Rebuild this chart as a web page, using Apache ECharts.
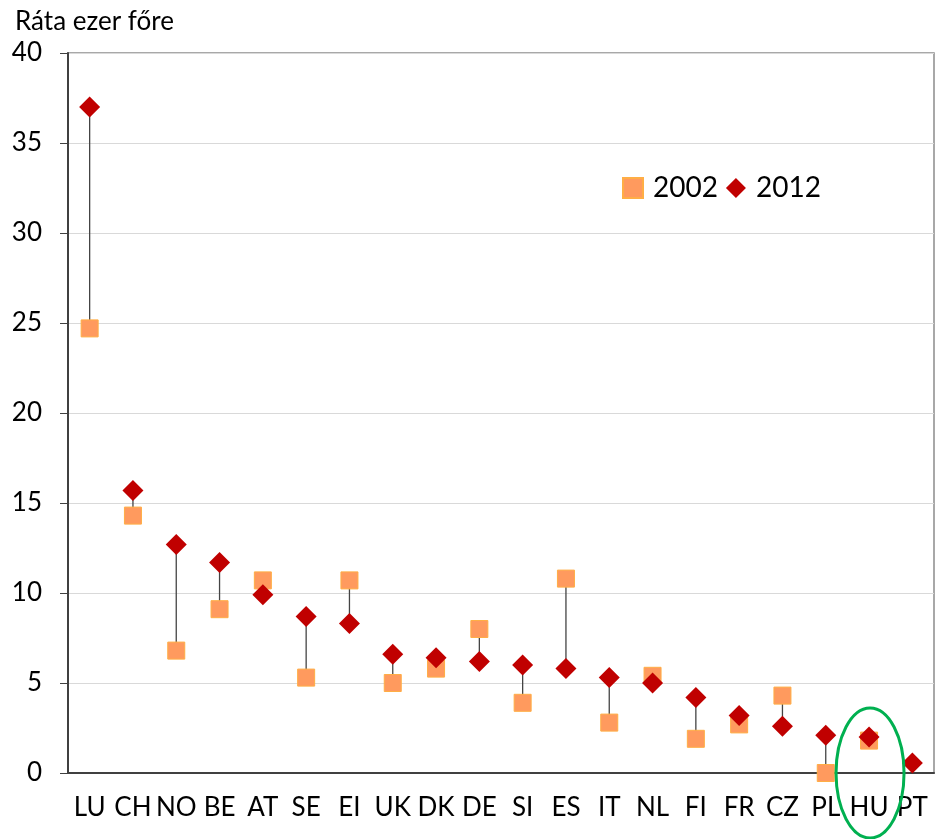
<!DOCTYPE html>
<html>
<head>
<meta charset="utf-8">
<script src="https://cdn.jsdelivr.net/npm/echarts@6/dist/echarts.min.js"></script>
<style>
  html, body { margin: 0; padding: 0; background: #fff; }
  #chart { width: 936px; height: 839px; }
</style>
</head>
<body>
<div id="chart"></div>
<script>
const countries = ['LU', 'CH', 'NO', 'BE', 'AT', 'SE', 'EI', 'UK', 'DK', 'DE', 'SI', 'ES', 'IT', 'NL', 'FI', 'FR', 'CZ', 'PL', 'HU', 'PT'];
const rate2002 = [24.7, 14.3, 6.8, 9.1, 10.7, 5.3, 10.7, 5.0, 5.8, 8.0, 3.9, 10.8, 2.8, 5.4, 1.9, 2.7, 4.3, 0.0, 1.8, null];
const rate2012 = [37.0, 15.7, 12.7, 11.7, 9.9, 8.7, 8.3, 6.6, 6.4, 6.2, 6.0, 5.8, 5.3, 5.0, 4.2, 3.2, 2.6, 2.1, 2.0, 0.55];
const yTicks = { min: 0, max: 40, interval: 5 };
const highlighted = 'HU';

const FONT = 'Lato, "Liberation Sans", sans-serif';

const chart = echarts.init(document.getElementById('chart'));

// összekötő vonalak a két év között
const connectorData = countries.map((c, i) => [i, rate2002[i], rate2012[i]])
  .filter(d => d[1] != null && d[2] != null);

chart.setOption({
  animation: false,
  title: {
    text: 'Ráta ezer főre',
    left: 10,
    top: 4,
    textStyle: { fontFamily: FONT, fontSize: 26, fontWeight: 'normal', color: '#000' }
  },
  legend: {
    left: 617,
    top: 169,
    itemWidth: 20,
    itemHeight: 20,
    itemGap: 8,
    textStyle: { fontFamily: FONT, fontSize: 28, color: '#000', padding: [0, 0, 0, 5] },
    data: [
      { name: '2002', icon: 'rect' },
      { name: '2012', icon: 'diamond' }
    ]
  },
  grid: {
    left: 68, right: 2, top: 53, bottom: 66,
    show: true, borderColor: '#8c8c8c', borderWidth: 1.5
  },
  xAxis: {
    type: 'category',
    data: countries,
    boundaryGap: true,
    axisLine: { lineStyle: { color: '#404040', width: 2 } },
    axisTick: { show: false },
    axisLabel: { fontFamily: FONT, fontSize: 26, color: '#000', margin: 22, interval: 0 }
  },
  yAxis: {
    type: 'value',
    min: yTicks.min, max: yTicks.max, interval: yTicks.interval,
    axisLine: { show: true, lineStyle: { color: '#404040', width: 2 } },
    axisTick: { show: true, length: 8, lineStyle: { color: '#404040' } },
    axisLabel: { fontFamily: FONT, fontSize: 26, color: '#000', margin: 26 },
    splitLine: { lineStyle: { color: '#d9d9d9', width: 1 } }
  },
  series: [
    {
      type: 'custom',
      name: 'connector',
      z: 1,
      silent: true,
      data: connectorData,
      renderItem: function (params, api) {
        const p1 = api.coord([api.value(0), api.value(1)]);
        const p2 = api.coord([api.value(0), api.value(2)]);
        return {
          type: 'line',
          shape: { x1: p1[0], y1: p1[1], x2: p2[0], y2: p2[1] },
          style: { stroke: '#444', lineWidth: 1.3 }
        };
      }
    },
    {
      type: 'scatter',
      name: '2002',
      z: 2,
      symbol: 'rect',
      symbolSize: 17,
      itemStyle: { color: '#ff9a5e', borderColor: '#ffae45', borderWidth: 1, opacity: 1 },
      data: rate2002
    },
    {
      type: 'scatter',
      name: '2012',
      z: 3,
      symbol: 'diamond',
      symbolSize: 21,
      itemStyle: { color: '#c00000', opacity: 1 },
      data: rate2012
    }
  ]
});

// zöld ellipszis a kiemelt ország körül
const center = chart.convertToPixel({ xAxisIndex: 0, yAxisIndex: 0 }, [highlighted, 0]);
chart.setOption({
  graphic: [{
    type: 'ellipse',
    z: 100,
    shape: { cx: center[0] + 1, cy: center[1], rx: 34, ry: 65 },
    style: { fill: 'none', stroke: '#00b050', lineWidth: 3 }
  }]
});
</script>
</body>
</html>
